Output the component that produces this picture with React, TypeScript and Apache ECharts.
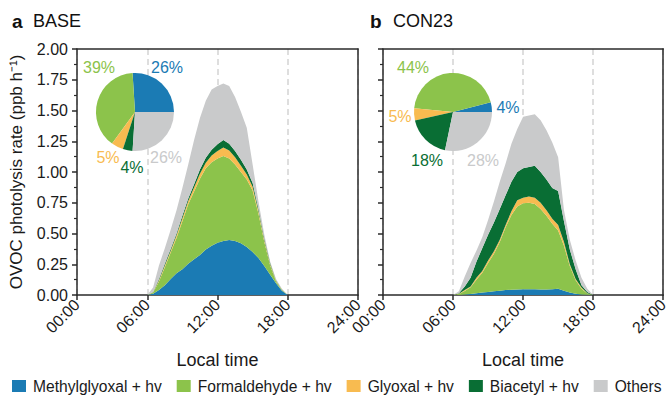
import React, { useEffect, useRef } from "react";
import * as echarts from "echarts";

// Local time (hours) of each sample, 30-min steps over the daylight period
const hours = [6, 6.5, 7, 7.5, 8, 8.5, 9, 9.5, 10, 10.5, 11, 11.5, 12, 12.5, 13, 13.5, 14, 14.5, 15, 15.5, 16, 16.5, 17, 17.5, 18];

// BASE scenario photolysis rates (ppb h-1)
const baseMethylglyoxal = [0, 0.01, 0.04, 0.08, 0.13, 0.176, 0.21, 0.255, 0.29, 0.325, 0.37, 0.4, 0.425, 0.44, 0.447, 0.44, 0.42, 0.39, 0.35, 0.3, 0.235, 0.165, 0.095, 0.035, 0];
const baseFormaldehyde = [0, 0.01, 0.07, 0.146, 0.215, 0.287, 0.39, 0.482, 0.552, 0.62, 0.66, 0.68, 0.685, 0.69, 0.663, 0.62, 0.58, 0.55, 0.5, 0.36, 0.195, 0.075, 0.015, 0.005, 0];
const baseGlyoxal = [0, 0.002, 0.01, 0.014, 0.015, 0.022, 0.025, 0.028, 0.033, 0.04, 0.045, 0.055, 0.06, 0.07, 0.065, 0.06, 0.05, 0.04, 0.03, 0.02, 0.015, 0.01, 0.005, 0.002, 0];
const baseBiacetyl = [0, 0.003, 0.01, 0.015, 0.015, 0.015, 0.02, 0.02, 0.025, 0.035, 0.04, 0.045, 0.055, 0.06, 0.055, 0.05, 0.05, 0.04, 0.03, 0.02, 0.015, 0.01, 0.005, 0.003, 0];
const baseOthers = [0, 0.035, 0.11, 0.125, 0.155, 0.19, 0.225, 0.275, 0.36, 0.42, 0.465, 0.49, 0.475, 0.46, 0.47, 0.44, 0.39, 0.34, 0.15, 0.06, 0.03, 0.01, 0.01, 0.005, 0];

// CON23 scenario photolysis rates (ppb h-1)
const conMethylglyoxal = [0, 0.001, 0.004, 0.008, 0.015, 0.02, 0.025, 0.03, 0.035, 0.04, 0.043, 0.045, 0.047, 0.047, 0.046, 0.045, 0.045, 0.047, 0.05, 0.035, 0.02, 0.01, 0.005, 0.002, 0];
const conFormaldehyde = [0, 0.007, 0.028, 0.054, 0.11, 0.16, 0.235, 0.305, 0.395, 0.51, 0.607, 0.675, 0.698, 0.703, 0.694, 0.655, 0.6, 0.533, 0.475, 0.365, 0.215, 0.11, 0.045, 0.01, 0];
const conGlyoxal = [0, 0.002, 0.008, 0.008, 0.015, 0.015, 0.02, 0.02, 0.02, 0.02, 0.03, 0.05, 0.045, 0.05, 0.05, 0.05, 0.045, 0.04, 0.045, 0.03, 0.015, 0.01, 0.01, 0.003, 0];
const conBiacetyl = [0, 0.005, 0.03, 0.07, 0.13, 0.185, 0.21, 0.235, 0.25, 0.24, 0.24, 0.23, 0.24, 0.24, 0.26, 0.25, 0.25, 0.25, 0.275, 0.17, 0.12, 0.08, 0.02, 0.01, 0];
const conOthers = [0, 0.015, 0.08, 0.12, 0.09, 0.09, 0.12, 0.17, 0.22, 0.26, 0.31, 0.35, 0.42, 0.42, 0.42, 0.42, 0.4, 0.37, 0.275, 0.09, 0.08, 0.07, 0.06, 0.025, 0];

// Daily contribution shares (%)
const basePie = [26, 39, 5, 4, 26];
const conPie = [4, 44, 5, 18, 28];

const seriesNames = ["Methylglyoxal + hv", "Formaldehyde + hv", "Glyoxal + hv", "Biacetyl + hv", "Others"];
const panelTags = ["a", "b"];
const panelNames = ["BASE", "CON23"];

const colors = ["#1b7bb4", "#8cc34b", "#f8bb50", "#096e34", "#c9cacb"];
const FONT = "'Liberation Sans', Arial, Helvetica, sans-serif";
const TEXT = "#1a1a1a";
const AXIS = "#2b2b2b";

// label anchor positions (px) for pie percentage labels
const basePieLabelPos = [[167, 67], [99, 67], [108, 157], [132, 167], [166, 157]];
const conPieLabelPos = [[508, 107], [413, 67], [400, 116], [427, 160], [483, 160]];

const fmtTime = (h: number) => {
  const hh = Math.floor(h);
  const mm = Math.round((h - hh) * 60);
  return (hh < 10 ? "0" : "") + hh + ":" + (mm < 10 ? "0" : "") + mm;
};

// full-day category axis in 30-min steps (00:00 ... 24:00)
const dayCategories: string[] = [];
for (let i = 0; i <= 48; i++) dayCategories.push(fmtTime(i / 2));

export default function App() {
  const ref = useRef<HTMLDivElement>(null);

  useEffect(() => {
    document.body.style.margin = "0";
    if (!ref.current) return;
    const chart = echarts.init(ref.current, null, { renderer: "svg" });

    const baseSets = [baseMethylglyoxal, baseFormaldehyde, baseGlyoxal, baseBiacetyl, baseOthers];
    const conSets = [conMethylglyoxal, conFormaldehyde, conGlyoxal, conBiacetyl, conOthers];

    const grids = [
      { left: 77, top: 49, width: 281, height: 246 },
      { left: 383, top: 49, width: 282, height: 246 },
    ];

    const bottomX = (gi: number) => ({
      gridIndex: gi,
      type: "category",
      data: dayCategories,
      boundaryGap: false,
      position: "bottom",
      axisLine: { show: true, onZero: false, lineStyle: { color: AXIS, width: 1.5 } },
      axisTick: { show: true, interval: 11, length: 5, lineStyle: { color: AXIS, width: 1.5 } },
      axisLabel: {
        interval: 11,
        rotate: 45,
        fontSize: 16,
        color: TEXT,
        fontFamily: FONT,
        margin: 7,
      },
      splitLine: { show: true, interval: 11, lineStyle: { color: "#d4d4d4", width: 1.5, type: [6, 4] } },
      name: "Local time",
      nameLocation: "middle",
      nameGap: 56,
      nameTextStyle: { fontSize: 18, color: TEXT, fontFamily: FONT },
    });

    const topX = (gi: number) => ({
      gridIndex: gi,
      type: "category",
      data: dayCategories,
      boundaryGap: false,
      position: "top",
      axisLine: { show: true, onZero: false, lineStyle: { color: AXIS, width: 1.5 } },
      axisTick: { show: false },
      axisLabel: { show: false },
      splitLine: { show: false },
    });

    const leftY = (gi: number) => ({
      gridIndex: gi,
      type: "value",
      min: 0,
      max: 2,
      interval: 0.25,
      position: "left",
      axisLine: { show: true, onZero: false, lineStyle: { color: AXIS, width: 1.5 } },
      axisTick: { show: true, length: 5, lineStyle: { color: AXIS, width: 1.5 } },
      minorTick: { show: true, splitNumber: 2, length: 3, lineStyle: { color: AXIS, width: 1.2 } },
      axisLabel: {
        show: gi === 0,
        fontSize: 16,
        color: TEXT,
        fontFamily: FONT,
        margin: 9,
        formatter: (v: number) => v.toFixed(2),
      },
      splitLine: { show: false },
      name: gi === 0 ? "OVOC photolysis rate (ppb h\u207B\u00B9)" : "",
      nameLocation: "middle",
      nameGap: 52,
      nameRotate: 90,
      nameTextStyle: { fontSize: 17, color: TEXT, fontFamily: FONT },
    });

    const rightY = (gi: number) => ({
      gridIndex: gi,
      type: "value",
      min: 0,
      max: 2,
      position: "right",
      axisLine: { show: true, onZero: false, lineStyle: { color: AXIS, width: 1.5 } },
      axisTick: { show: false },
      axisLabel: { show: false },
      splitLine: { show: false },
    });

    const areaSeries: any[] = [];
    [baseSets, conSets].forEach((sets, gi) => {
      sets.forEach((vals, k) => {
        areaSeries.push({
          type: "line",
          name: seriesNames[k],
          xAxisIndex: gi,
          yAxisIndex: gi,
          stack: "panel" + gi,
          data: hours.map((h, i) => [fmtTime(h), vals[i]]),
          showSymbol: false,
          symbol: "none",
          lineStyle: { width: 0, color: colors[k] },
          itemStyle: { color: colors[k] },
          areaStyle: { color: colors[k], opacity: 1 },
          silent: true,
          z: 2,
        });
      });
    });

    const makePie = (vals: number[], center: number[], pos: number[][]) => ({
      type: "pie",
      center,
      radius: 39,
      startAngle: 0,
      clockwise: false,
      silent: true,
      z: 5,
      data: seriesNames.map((n, i) => ({
        name: n,
        value: vals[i],
        itemStyle: { color: colors[i] },
        label: { color: colors[i] },
      })),
      label: {
        show: true,
        position: "outside",
        formatter: "{c}%",
        fontSize: 16,
        fontFamily: FONT,
      },
      labelLine: { show: false },
      labelLayout: (p: any) => ({
        x: pos[p.dataIndex][0],
        y: pos[p.dataIndex][1],
        align: "center",
        verticalAlign: "middle",
      }),
    });

    const titles: any[] = [];
    const tagLeft = [12, 370];
    const nameLeft = [33, 393];
    panelTags.forEach((t, i) => {
      titles.push({
        text: t,
        left: tagLeft[i],
        top: 12,
        padding: 0,
        textStyle: { fontSize: 19, fontWeight: "bold", color: "#111", fontFamily: FONT },
      });
      titles.push({
        text: panelNames[i],
        left: nameLeft[i],
        top: 12,
        padding: 0,
        textStyle: { fontSize: 18, fontWeight: "normal", color: "#111", fontFamily: FONT },
      });
    });

    chart.setOption({
      animation: false,
      textStyle: { fontFamily: FONT },
      title: titles,
      grid: grids,
      xAxis: [bottomX(0), bottomX(1), topX(0), topX(1)],
      yAxis: [leftY(0), leftY(1), rightY(0), rightY(1)],
      legend: {
        show: true,
        top: 378,
        left: 12,
        width: 659,
        padding: 0,
        itemWidth: 14,
        itemHeight: 12,
        itemGap: 15,
        icon: "rect",
        data: seriesNames,
        selectedMode: false,
        textStyle: { fontSize: 15.6, color: TEXT, fontFamily: FONT, padding: [0, 0, 0, 2] },
      },
      series: [
        ...areaSeries,
        makePie(basePie, [135, 112], basePieLabelPos),
        makePie(conPie, [453, 112], conPieLabelPos),
      ],
    });

    return () => {
      chart.dispose();
    };
  }, []);

  return <div ref={ref} style={{ width: 671, height: 395 }} />;
}
